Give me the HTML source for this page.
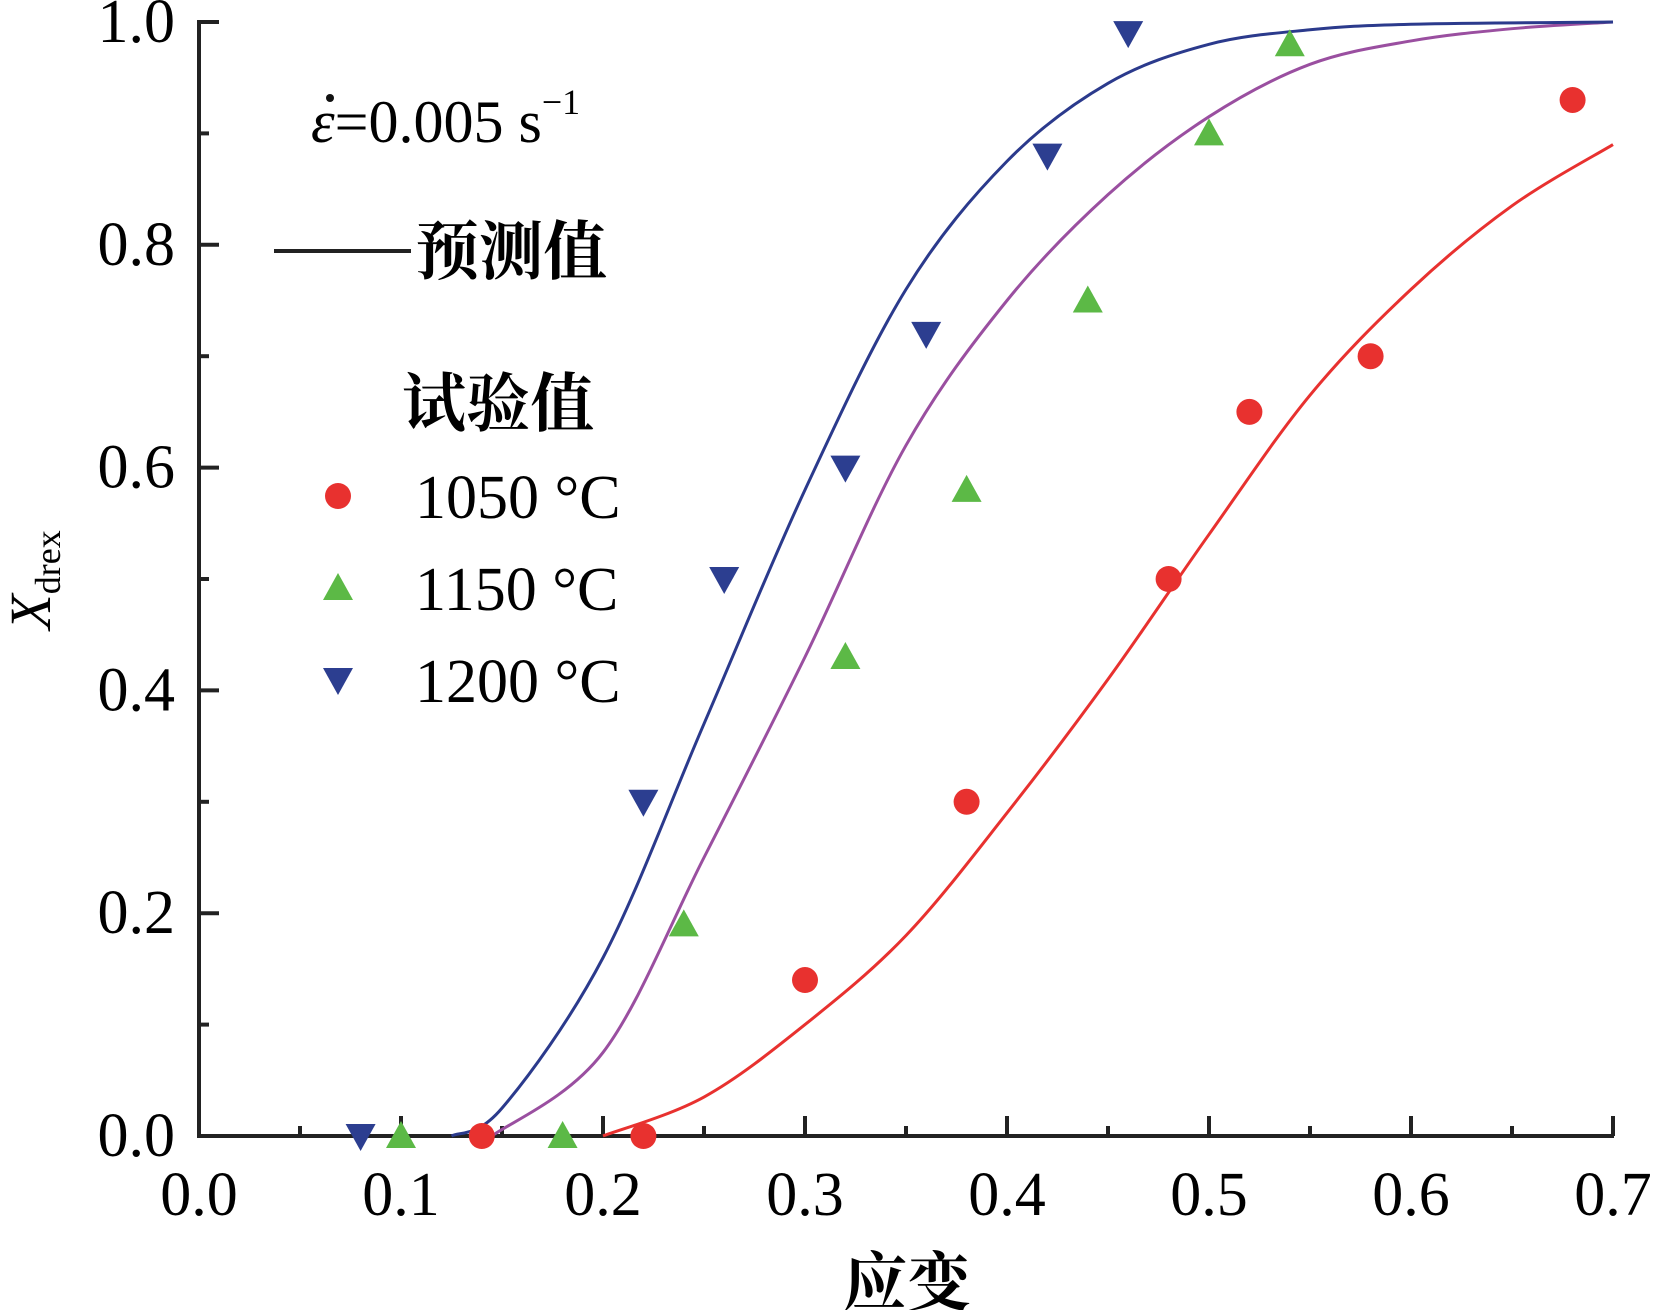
<!DOCTYPE html>
<html><head><meta charset="utf-8"><style>
body{margin:0;background:#fff;}
svg{display:block;font-family:"Liberation Serif","Noto Serif CJK SC",serif;}
</style></head><body>
<svg id="chart" width="1654" height="1310" viewBox="0 0 1654 1310">
<g id="axes"></g>
<g id="curves"></g>
<g id="points"></g>
<text x="311" y="142" font-size="60"><tspan font-style="italic">ε</tspan>=0.005 s<tspan font-size="36" dy="-28">−1</tspan></text>
<circle cx="330" cy="98" r="4" fill="#111"/>
<line x1="274" y1="251" x2="411" y2="251" stroke="#222" stroke-width="4"/>
<text x="415" y="274" font-size="64" font-weight="bold">预测值</text>
<text x="402" y="426" font-size="64" font-weight="bold">试验值</text>
<g id="legend"></g>
<text transform="translate(50,580) rotate(-90)" text-anchor="middle" font-size="58"><tspan font-style="italic">X</tspan><tspan font-size="36" dy="10">drex</tspan></text>
<text x="907" y="1305" text-anchor="middle" font-size="64" font-weight="bold">应变</text>
</svg>
<script>
const xTicks=[0,0.1,0.2,0.3,0.4,0.5,0.6,0.7];
const yTicks=[0,0.2,0.4,0.6,0.8,1.0];
const names=['1050 °C','1150 °C','1200 °C'];
const colors=['#e8312f','#5cb946','#2c3e90'];
const curveColors=['#e8312f','#9a4fa0','#2b3a8c'];
const x1050=[0.14,0.22,0.30,0.38,0.48,0.52,0.58,0.68];
const y1050=[0,0,0.14,0.30,0.50,0.65,0.70,0.93];
const x1150=[0.10,0.18,0.24,0.32,0.38,0.44,0.50,0.54];
const y1150=[0,0,0.19,0.43,0.58,0.75,0.90,0.98];
const x1200=[0.08,0.22,0.26,0.32,0.36,0.42,0.46];
const y1200=[0,0.30,0.50,0.60,0.72,0.88,0.99];
const cx1050=[0.20,0.25,0.30,0.35,0.40,0.45,0.50,0.55,0.60,0.65,0.70];
const cy1050=[0,0.035,0.10,0.18,0.29,0.41,0.54,0.665,0.76,0.835,0.89];
const cx1150=[0.145,0.20,0.25,0.30,0.35,0.40,0.45,0.50,0.55,0.60,0.65,0.70];
const cy1150=[0,0.075,0.25,0.43,0.62,0.75,0.845,0.915,0.962,0.983,0.994,1.0];
const cx1200=[0.125,0.15,0.20,0.25,0.30,0.35,0.40,0.45,0.50,0.55,0.60,0.70];
const cy1200=[0,0.025,0.16,0.37,0.58,0.76,0.875,0.945,0.98,0.993,0.998,1.0];
const NS='http://www.w3.org/2000/svg';
const X=v=>199+v/0.1*202, Y=v=>1136-v*1114;
function mk(t,a,p){const e=document.createElementNS(NS,t);for(const k in a)e.setAttribute(k,a[k]);p.appendChild(e);return e;}
const ax=document.getElementById('axes');
const xl=mk('line',{x1:199,y1:1136,x2:1614,y2:1136,stroke:'#222','stroke-width':4},ax);


const yl=mk('line',{x1:199,y1:1138,x2:199,y2:20,stroke:'#222','stroke-width':4},ax);


for(let i=0;i<=14;i++){const v=i*0.05,x=X(v);const len=i%2?10:20;
 const t=mk('line',{x1:x,y1:1136,x2:x,y2:1136-len,stroke:'#222','stroke-width':4},ax);
 
 }
xTicks.forEach(v=>{const t=mk('text',{x:X(v),y:1215,'text-anchor':'middle','font-size':62},ax);t.textContent=v.toFixed(1);
 
 });
for(let i=0;i<=10;i++){const v=i*0.1,y=Y(v);const len=i%2?10:20;
 const t=mk('line',{x1:199,y1:y,x2:199+len,y2:y,stroke:'#222','stroke-width':4},ax);
 
 }
yTicks.forEach(v=>{const t=mk('text',{x:175,y:Y(v)+20,'text-anchor':'end','font-size':62},ax);t.textContent=v.toFixed(1);
 
 });
function spline(xs,ys){const p=xs.map((x,i)=>[X(x),Y(ys[i])]);let d='M'+p[0][0]+','+p[0][1];
 for(let i=0;i<p.length-1;i++){const p0=p[i-1]||p[i],p1=p[i],p2=p[i+1],p3=p[i+2]||p2;
  d+=` C${p1[0]+(p2[0]-p0[0])/6},${p1[1]+(p2[1]-p0[1])/6} ${p2[0]-(p3[0]-p1[0])/6},${p2[1]-(p3[1]-p1[1])/6} ${p2[0]},${p2[1]}`;}return d;}
const cg=document.getElementById('curves');
[[cx1050,cy1050],[cx1150,cy1150],[cx1200,cy1200]].forEach((c,i)=>{
 const p=mk('path',{d:spline(c[0],c[1]),fill:'none',stroke:curveColors[i],'stroke-width':3},cg);
 
 });
function marker(k,x,y,g){let e;
 if(k==0)e=mk('circle',{cx:x,cy:y,r:13,fill:colors[0]},g);
 else if(k==1)e=mk('polygon',{points:`${x},${y-15} ${x-15},${y+12} ${x+15},${y+12}`,fill:colors[1]},g);
 else e=mk('polygon',{points:`${x},${y+15} ${x-15},${y-12} ${x+15},${y-12}`,fill:colors[2]},g);
 return e;}
const pg=document.getElementById('points');
[[x1050,y1050],[x1150,y1150],[x1200,y1200]].forEach((s,k)=>{
 s[0].forEach((xv,i)=>{const m=marker(k,X(xv),Y(s[1][i]),pg);
  
  });});
const lg=document.getElementById('legend');
names.forEach((n,k)=>{const y=496+k*92;const m=marker(k,338,y,lg);
 
 
 const t=mk('text',{x:415,y:y+22,'font-size':62},lg);t.textContent=n;
 
 });
</script>
</body></html>
